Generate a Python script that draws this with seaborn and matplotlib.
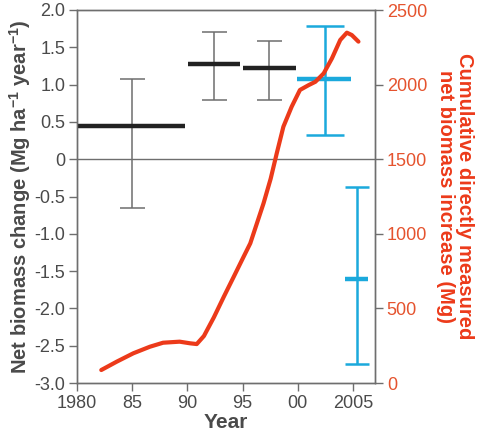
import numpy as np
import pandas as pd
import matplotlib
matplotlib.use("Agg")
import matplotlib.pyplot as plt
import seaborn as sns

# ---- data ----
curve_years = [1982.2, 1983.6, 1985.1, 1986.6, 1987.8, 1989.3, 1990.25, 1990.85,
               1991.5, 1992.4, 1993.3, 1994.2, 1995.1, 1995.7, 1996.3, 1996.9,
               1997.55, 1998.1, 1998.7, 1999.45, 2000.2, 2001.0, 2001.6, 2002.35,
               2003.1, 2003.85, 2004.45, 2004.9, 2005.5]
curve_cum = [87, 143, 199, 243, 270, 277, 266, 261,
             315, 440, 578, 712, 847, 936, 1070, 1204,
             1370, 1540, 1718, 1852, 1964, 1997, 2019, 2075,
             2176, 2299, 2348, 2332, 2288]

black_start = [1980.0, 1990.1, 1995.0]
black_end = [1989.8, 1994.8, 1999.8]
black_mean = [0.45, 1.27, 1.22]
black_err_x = [1985.0, 1992.4, 1997.4]
black_hi = [1.08, 1.70, 1.59]
black_lo = [-0.65, 0.80, 0.80]

blue_start = [1999.9, 2004.3]
blue_end = [2004.85, 2006.4]
blue_mean = [1.08, -1.61]
blue_err_x = [2002.5, 2005.35]
blue_hi = [1.78, -0.37]
blue_lo = [0.32, -2.74]

xticks = [1980, 1985, 1990, 1995, 2000, 2005]
xticklabels = ["1980", "85", "90", "95", "00", "2005"]
yticks_left = [-3.0, -2.5, -2.0, -1.5, -1.0, -0.5, 0, 0.5, 1.0, 1.5, 2.0]
yticklabels_left = ["-3.0", "-2.5", "-2.0", "-1.5", "-1.0", "-0.5", "0", "0.5", "1.0", "1.5", "2.0"]
yticks_right = [0, 500, 1000, 1500, 2000, 2500]

# ---- style ----
sns.set_style("ticks")
plt.rcParams['font.family'] = ['Liberation Sans', 'DejaVu Sans']

RED = "#ec3a1a"
RED_TXT = "#e5532e"
BLUE = "#1ba9dc"
GRAY = "#6e6e6e"
TXT = "#4a4a4a"

fig = plt.figure(figsize=(4.86, 4.46), dpi=100)
ax = fig.add_axes([77/486, 1-383/446, (375-77)/486, (383-10)/446])

ax.set_xlim(1980, 2007)
ax.set_ylim(-3, 2)

# zero line
ax.axhline(0, color=GRAY, lw=1.0, zorder=1)

# black error bars
for i in range(len(black_mean)):
    m = black_mean[i]
    ax.errorbar([black_err_x[i]], [m],
                yerr=[[m - black_lo[i]], [black_hi[i] - m]],
                fmt='none', ecolor=GRAY, elinewidth=1.1, capsize=9, capthick=1.1, zorder=2)
    ax.hlines(m, black_start[i], black_end[i], color="#222222", lw=3.2, zorder=3)

# blue error bars
caps_blue = [13.7, 8.4]
for i in range(len(blue_mean)):
    m = blue_mean[i]
    ax.errorbar([blue_err_x[i]], [m],
                yerr=[[m - blue_lo[i]], [blue_hi[i] - m]],
                fmt='none', ecolor=BLUE, elinewidth=1.8, capsize=caps_blue[i], capthick=1.8, zorder=2)
    ax.hlines(m, blue_start[i], blue_end[i], color=BLUE, lw=3.2, zorder=3)

ax.set_xticks(xticks)
ax.set_xticklabels(xticklabels)
ax.set_yticks(yticks_left)
ax.set_yticklabels(yticklabels_left)
ax.tick_params(axis='both', labelsize=13, colors=GRAY, labelcolor=TXT, length=6, width=1.0,
               direction='out', pad=2.5)
for s in ax.spines.values():
    s.set_color(GRAY)
    s.set_linewidth(1.0)
    s.set_visible(True)

ax.set_xlabel("Year", fontsize=15, fontweight='bold', color=TXT, labelpad=1)
ax.set_ylabel("Net biomass change (Mg ha$^{\\mathregular{-1}}$ year$^{\\mathregular{-1}}$)",
              fontsize=14.5, fontweight='bold', color=TXT, labelpad=1)

# right axis with cumulative curve
ax2 = ax.twinx()
df = pd.DataFrame({"year": curve_years, "cum": curve_cum})
sns.lineplot(data=df, x="year", y="cum", ax=ax2, color=RED, lw=3, legend=False)
for ln in ax2.get_lines():
    ln.set_solid_joinstyle('round')
    ln.set_solid_capstyle('round')
ax2.set_ylim(0, 2500)
ax2.set_xlim(1980, 2007)
ax2.set_yticks(yticks_right)
ax2.set_yticklabels([str(v) for v in yticks_right])
ax2.tick_params(axis='y', labelsize=13, colors=GRAY, labelcolor=RED_TXT, length=6, width=1.0,
                direction='out', pad=2.5)
for s in ax2.spines.values():
    s.set_color(GRAY)
    s.set_linewidth(1.0)
ax2.set_xlabel("")
ax2.set_ylabel("Cumulative directly measured\nnet biomass increase (Mg)",
               fontsize=14.5, fontweight='bold', color=RED, rotation=270, labelpad=34,
               linespacing=1.0)

fig.savefig("out.png", dpi=100)
